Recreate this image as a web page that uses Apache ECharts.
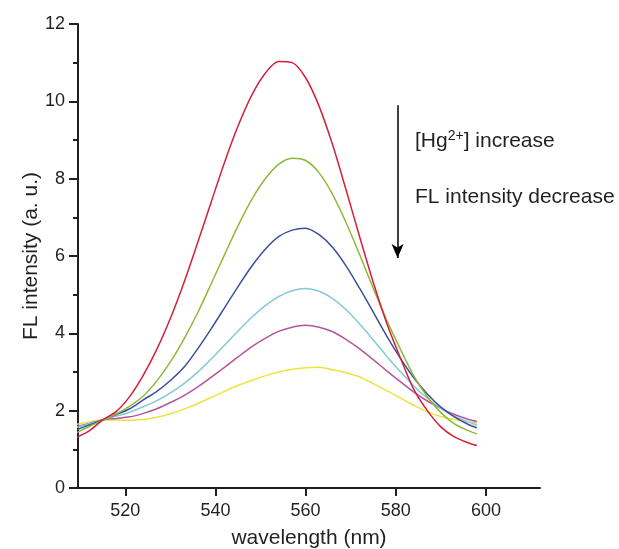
<!DOCTYPE html>
<html>
<head>
<meta charset="utf-8">
<script src="https://cdn.jsdelivr.net/npm/echarts@6/dist/echarts.min.js"></script>
<style>
  html, body { margin: 0; padding: 0; background: #fff; }
  #main { width: 619px; height: 549px; }
</style>
</head>
<body>
<div id="main"></div>
<script>
// wavelength (nm) sample points
var wavelength = [509, 512, 515, 518, 521, 524, 527, 530, 533, 536, 539, 542, 545, 548, 551, 554,
  557, 560, 563, 566, 569, 572, 575, 578, 581, 584, 587, 590, 593, 596, 598]

// FL intensity, one array per Hg2+ level (highest emission first)
var red = [1.30, 1.48, 1.76, 1.98, 2.37, 2.92, 3.59, 4.39, 5.31, 6.33, 7.38, 8.42, 9.36, 10.15, 10.72, 11.03,
  11.00, 10.61, 9.87, 8.87, 7.70, 6.49, 5.32, 4.26, 3.37, 2.55, 2.00, 1.58, 1.32, 1.17, 1.10]
var green = [1.42, 1.59, 1.75, 1.92, 2.12, 2.38, 2.77, 3.26, 3.85, 4.52, 5.27, 6.03, 6.78, 7.45, 7.99, 8.37,
  8.53, 8.47, 8.15, 7.59, 6.86, 6.03, 5.17, 4.34, 3.60, 2.90, 2.36, 1.95, 1.66, 1.49, 1.40]
var blue = [1.50, 1.63, 1.76, 1.90, 2.05, 2.28, 2.50, 2.78, 3.12, 3.59, 4.11, 4.66, 5.21, 5.73, 6.17, 6.50,
  6.67, 6.72, 6.55, 6.22, 5.74, 5.16, 4.55, 3.93, 3.36, 2.85, 2.43, 2.09, 1.84, 1.65, 1.56]
var cyan = [1.56, 1.66, 1.76, 1.86, 1.96, 2.10, 2.26, 2.46, 2.70, 2.99, 3.33, 3.69, 4.06, 4.41, 4.71, 4.95,
  5.10, 5.16, 5.09, 4.90, 4.61, 4.24, 3.83, 3.41, 3.01, 2.64, 2.32, 2.06, 1.86, 1.71, 1.63]
var purple = [1.58, 1.67, 1.76, 1.80, 1.84, 1.93, 2.05, 2.21, 2.39, 2.61, 2.86, 3.12, 3.39, 3.65, 3.87, 4.05,
  4.16, 4.21, 4.16, 4.04, 3.84, 3.60, 3.32, 3.03, 2.75, 2.48, 2.25, 2.06, 1.90, 1.78, 1.72]
var yellow = [1.64, 1.71, 1.76, 1.76, 1.75, 1.77, 1.83, 1.92, 2.04, 2.18, 2.34, 2.50, 2.65, 2.78, 2.90, 3.00,
  3.07, 3.11, 3.12, 3.06, 2.98, 2.87, 2.70, 2.52, 2.33, 2.14, 1.97, 1.85, 1.77, 1.71, 1.68]

var xTicks = [520, 540, 560, 580, 600]
// arrow annotation, data coords
var arrowFrom = [580.4, 9.9]
var arrowTo = [580.4, 5.95]

var font = 'Liberation Sans, Arial, Helvetica, sans-serif'
var ink = '#231f20'

function pairs (arr) {
  return wavelength.map(function (w, i) { return [w, arr[i]] })
}

function curve (name, arr, color) {
  return {
    name: name,
    type: 'line',
    data: pairs(arr),
    smooth: 0.3,
    showSymbol: false,
    lineStyle: { color: color, width: 1.5 },
    silent: true
  }
}

var series = [
  curve('yellow', yellow, '#ede33f'),
  curve('purple', purple, '#b4559e'),
  curve('cyan', cyan, '#84c9d7'),
  curve('blue', blue, '#3b4f9e'),
  curve('green', green, '#8fb83a'),
  curve('red', red, '#d51f3a')
]

// arrow hangs off the last series as a markLine
series[series.length - 1].markLine = {
  silent: true,
  symbol: ['none', 'arrow'],
  symbolSize: [9, 14],
  label: { show: false },
  lineStyle: { color: '#000', width: 1.5, type: 'solid' },
  data: [[{ coord: arrowFrom }, { coord: arrowTo }]]
}

var chart = echarts.init(document.getElementById('main'))
chart.setOption({
  animation: false,
  backgroundColor: '#fff',
  grid: { left: 78, right: 79, top: 24, bottom: 61, containLabel: false, outerBoundsMode: 'none' },
  xAxis: {
    type: 'value',
    min: 509.5,
    max: 612,
    name: 'wavelength (nm)',
    nameLocation: 'middle',
    nameGap: 40,
    nameTextStyle: { fontFamily: font, fontSize: 21, color: ink },
    axisLine: { lineStyle: { color: ink, width: 2 } },
    axisTick: { show: true, length: 8, lineStyle: { color: ink, width: 2 }, customValues: xTicks },
    axisLabel: { fontFamily: font, fontSize: 18, color: ink, margin: 14, customValues: xTicks },
    splitLine: { show: false }
  },
  yAxis: {
    type: 'value',
    min: 0,
    max: 12,
    interval: 2,
    name: 'FL intensity (a. u.)',
    nameLocation: 'middle',
    nameGap: 36,
    nameMoveOverlap: false,
    nameTextStyle: { fontFamily: font, fontSize: 21, color: ink },
    axisLine: { show: true, lineStyle: { color: ink, width: 2 } },
    axisTick: { show: true, length: 9, lineStyle: { color: ink, width: 2 } },
    minorTick: { show: true, splitNumber: 2, length: 5, lineStyle: { color: ink, width: 2 } },
    axisLabel: { fontFamily: font, fontSize: 18, color: ink, margin: 13 },
    splitLine: { show: false }
  },
  graphic: [
    {
      type: 'text',
      left: 415,
      top: 129,
      style: {
        text: '[Hg{sup|2+}] increase',
        font: '21px ' + font,
        fill: ink,
        rich: {
          sup: { fontSize: 14, fontFamily: font, fill: ink, padding: [0, 0, 10, 0] }
        }
      }
    },
    {
      type: 'text',
      left: 415,
      top: 187,
      style: { text: 'FL intensity decrease', font: '21px ' + font, fill: ink }
    }
  ],
  series: series
})
</script>
</body>
</html>
